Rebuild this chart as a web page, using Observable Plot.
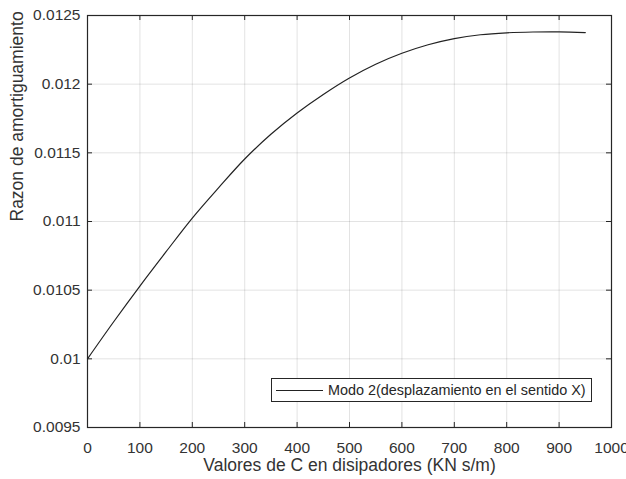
<!DOCTYPE html>
<html>
<head>
<meta charset="utf-8">
<script src="https://cdn.jsdelivr.net/npm/d3@7"></script>
<script src="https://cdn.jsdelivr.net/npm/@observablehq/plot@0.6"></script>
<style>
  html, body { margin: 0; padding: 0; background: #fff; }
  #chart { position: relative; width: 626px; height: 479px; font-family: "Liberation Sans", Arial, sans-serif; }
  #chart svg { overflow: visible; }
  .legend {
    position: absolute; left: 271px; top: 378px; width: 321px; height: 24px;
    box-sizing: border-box; border: 1px solid #262626; background: #fff;
    display: flex; align-items: center; font-size: 14.4px; color: #262626;
  }
  .legend .swatch { width: 47px; height: 0; border-top: 1.2px solid #222; margin: 0 5px 0 4px; }
</style>
</head>
<body>
<div id="chart"></div>
<script>
// Damping coefficient of the dissipators (KN s/m)
const dampingC = [0, 50, 100, 150, 200, 250, 300, 350, 400, 450, 500, 550, 600, 650, 700, 750, 800, 850, 900, 950];
// Damping ratio of mode 2 (displacement along X)
const dampingRatio = [0.010000, 0.010270, 0.010530, 0.010780, 0.011025, 0.011245, 0.011455, 0.011635, 0.011790, 0.011925,
                      0.012045, 0.012145, 0.012225, 0.012287, 0.012332, 0.012360, 0.012374, 0.012380, 0.012381, 0.012376];

const xTicks = [0, 100, 200, 300, 400, 500, 600, 700, 800, 900, 1000];
const yTicks = [0.0095, 0.01, 0.0105, 0.011, 0.0115, 0.012, 0.0125];
const xLabel = "Valores de C en disipadores (KN s/m)";
const yLabel = "Razon de amortiguamiento";
const seriesName = "Modo 2(desplazamiento en el sentido X)";

const data = dampingC.map((c, i) => ({c, r: dampingRatio[i]}));

const W = 626, H = 479;
const mL = 87, mR = 15, mT = 15, mB = 52;
const plotW = W - mL - mR, plotH = H - mT - mB;
const ink = "#262626";
const tickLen = 5;

const chart = Plot.plot({
  width: W,
  height: H,
  marginLeft: mL, marginRight: mR, marginTop: mT, marginBottom: mB,
  style: {fontFamily: "'Liberation Sans', Arial, sans-serif", color: ink, background: "#fff"},
  x: {domain: [0, 1000]},
  y: {domain: [0.0095, 0.0125]},
  marks: [
    Plot.gridX(xTicks, {stroke: ink, strokeOpacity: 0.13}),
    Plot.gridY(yTicks, {stroke: ink, strokeOpacity: 0.13}),
    // inward ticks on all four sides of the box
    Plot.tickX(xTicks, {x: d => d, stroke: ink, insetTop: plotH - tickLen}),
    Plot.tickX(xTicks, {x: d => d, stroke: ink, insetBottom: plotH - tickLen}),
    Plot.tickY(yTicks, {y: d => d, stroke: ink, insetRight: plotW - tickLen}),
    Plot.tickY(yTicks, {y: d => d, stroke: ink, insetLeft: plotW - tickLen}),
    Plot.axisX(xTicks, {tickSize: 0, tickPadding: 14, fontSize: 15.5, label: null, fill: "#333",
                        tickFormat: d => String(d)}),
    Plot.axisY(yTicks, {tickSize: 0, tickPadding: 7, fontSize: 15.5, label: null, fill: "#333",
                        tickFormat: d => String(+d.toFixed(4))}),
    Plot.frame({stroke: ink, strokeWidth: 1.2}),
    Plot.lineY(data, {x: "c", y: "r", stroke: "#222", strokeWidth: 1.2, curve: "catmull-rom"}),
    Plot.text([xLabel], {text: d => d, frameAnchor: "bottom", dy: 43, fontSize: 17.5, fill: "#333"}),
    Plot.text([yLabel], {text: d => d, frameAnchor: "left", dx: -70, rotate: -90, fontSize: 17.5, fill: "#333"})
  ]
});

const root = document.getElementById("chart");
root.appendChild(chart);

const legend = document.createElement("div");
legend.className = "legend";
legend.innerHTML = `<span class="swatch"></span><span>${seriesName}</span>`;
root.appendChild(legend);
</script>
</body>
</html>
